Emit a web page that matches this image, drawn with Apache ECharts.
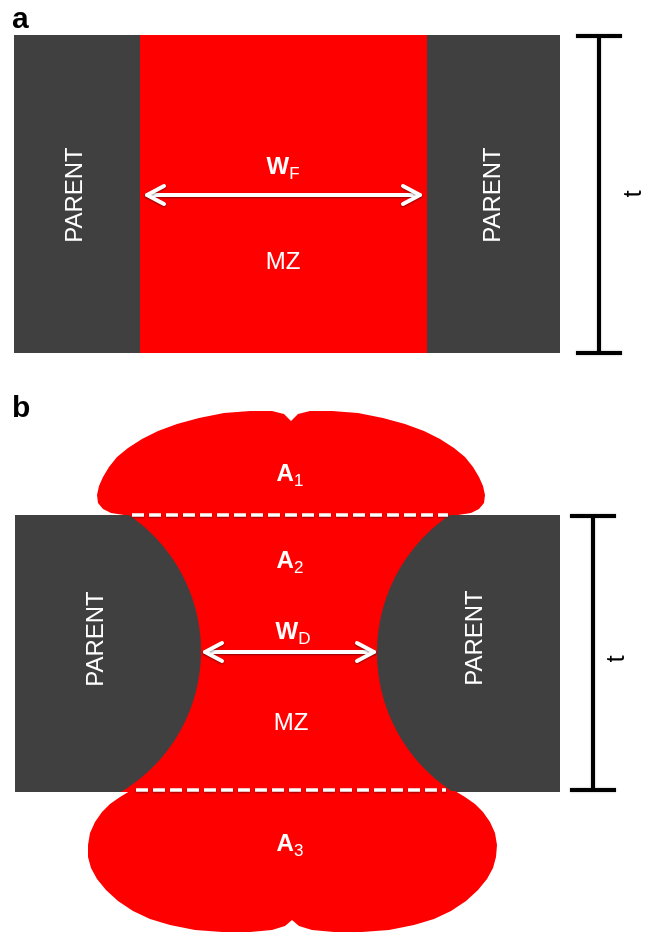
<!DOCTYPE html>
<html>
<head>
<meta charset="utf-8">
<script src="https://cdn.jsdelivr.net/npm/echarts@6/dist/echarts.min.js"></script>
<style>
  html, body { margin: 0; padding: 0; background: #ffffff; }
  #chart { width: 649px; height: 936px; }
</style>
</head>
<body>
<div id="chart"></div>
<script>
// Weld cross-section sketch: (a) flat fusion boundaries, (b) curved fusion boundaries
// with top and bottom bulges. Everything is laid out in a plain x/y frame
// (x to the right, y downward) and placed through hidden value axes.

// Parent-metal blocks and melt zone of panel a: [x0, y0, x1, y1]
const parentBlocksA = [[14, 35, 140, 353], [427, 35, 560, 353]];
const meltZoneA = [[140, 35, 427, 353]];

// Panel b: plate band [x0, y0, x1, y1]
const plateB = [[15, 515, 560, 792]];
// Circular fusion boundaries bounding the neck: [cx, cy, r]
const fusionArcsB = [[37, 651, 164], [543, 652.5, 166]];
// Top and bottom surface of the plate in panel b
const neckSpanB = [515, 792];

// Outline of the top bulge (A1)
const bulgeTop = [
  [124, 515], [111, 513], [103, 509], [98, 503], [97, 495], [99, 486], [103, 477],
  [109, 467], [117, 457], [128, 448], [142, 439], [158, 431], [177, 424], [199, 418],
  [224, 413], [250, 411], [272, 411], [284, 414], [291, 421], [298, 414], [310, 411],
  [332, 411], [358, 413], [383, 418], [405, 424], [424, 431], [440, 439], [454, 448],
  [465, 457], [473, 467], [479, 477], [483, 486], [485, 495], [484, 503], [479, 509],
  [471, 513], [458, 515]
];
// Outline of the bottom bulge (A3)
const bulgeBottom = [
  [130, 791], [120, 797], [110, 804], [102, 812], [95, 822], [90, 833], [88, 845],
  [88, 857], [91, 868], [97, 879], [106, 890], [118, 901], [133, 911], [150, 919],
  [170, 925], [195, 930], [222, 932], [250, 932], [272, 930], [285, 926], [292, 920],
  [299, 926], [312, 930], [334, 932], [362, 932], [389, 930], [414, 925], [434, 919],
  [451, 911], [466, 901], [478, 890], [487, 879], [493, 868], [496, 857], [497, 845],
  [495, 833], [490, 822], [483, 812], [475, 804], [465, 797], [455, 791]
];

// Dashed section lines at the plate surfaces: [x0, y, x1]
const surfaceLines = [[132, 515, 448], [136, 790, 446]];
// Width arrows W_F and W_D: [x0, y, x1]
const widthArrows = [[147, 195, 420], [205, 652, 374]];
// Thickness bars: [x, y0, y1]
const thicknessBars = [[599, 36, 353], [593, 516, 790]];

// Text labels
const panelLetters = [['a', 12, 20], ['b', 12, 409]];
// [symbol, subscript, x, y]
const symbolLabels = [
  ['W', 'F', 283, 167],
  ['A', '1', 290, 474],
  ['A', '2', 290, 561],
  ['W', 'D', 293, 632],
  ['A', '3', 290, 844]
];
const zoneLabels = [['MZ', 283, 262], ['MZ', 291, 723]];
const parentLabels = [['PARENT', 75, 195], ['PARENT', 493, 195], ['PARENT', 96, 639], ['PARENT', 475, 638]];
const thicknessLabels = [['t', 634, 194], ['t', 617, 659]];

const FONT = '"Liberation Sans", Arial, Helvetica, sans-serif';
const RED = '#ff0000';
const GREY = '#404040';
const WHITE = '#ffffff';
const INK = '#000000';
const softShadow = { shadowBlur: 2, shadowOffsetY: 1, shadowColor: 'rgba(0,0,0,0.45)' };
const SYMBOL_FONT = 'bold 24px ' + FONT;
const SUB_FONT = '17px ' + FONT;
const SUB_DROP = 7.5;

const measureCtx = document.createElement('canvas').getContext('2d');
function textWidth(str, font) {
  measureCtx.font = font;
  return measureCtx.measureText(str).width;
}

function rectRenderer(fill) {
  return function (params, api) {
    const p0 = api.coord([api.value(0), api.value(1)]);
    const p1 = api.coord([api.value(2), api.value(3)]);
    return {
      type: 'rect',
      shape: { x: p0[0], y: p0[1], width: p1[0] - p0[0], height: p1[1] - p0[1] },
      style: { fill: fill }
    };
  };
}

function outlineRenderer(outline) {
  return function (params, api) {
    return {
      type: 'polygon',
      shape: { points: outline.map(function (pt) { return api.coord(pt); }) },
      style: { fill: RED }
    };
  };
}

// Neck between the two circular fusion boundaries
function renderNeck(params, api) {
  const y0 = neckSpanB[0], y1 = neckSpanB[1];
  const L = fusionArcsB[0], R = fusionArcsB[1];
  const steps = 120;
  const reach = function (c, y) {
    const d = y - c[1];
    return Math.sqrt(Math.max(0, c[2] * c[2] - d * d));
  };
  const pts = [];
  for (let i = 0; i <= steps; i++) {
    const y = y0 + (y1 - y0) * i / steps;
    pts.push(api.coord([L[0] + reach(L, y), y]));
  }
  for (let i = steps; i >= 0; i--) {
    const y = y0 + (y1 - y0) * i / steps;
    pts.push(api.coord([R[0] - reach(R, y), y]));
  }
  return { type: 'polygon', shape: { points: pts }, style: { fill: RED } };
}

function renderSurfaceLine(params, api) {
  const a = api.coord([api.value(0), api.value(1)]);
  const b = api.coord([api.value(2), api.value(1)]);
  return {
    type: 'line',
    shape: { x1: a[0], y1: a[1], x2: b[0], y2: b[1] },
    style: Object.assign({ stroke: WHITE, lineWidth: 3.5, lineDash: [12, 5], fill: null }, softShadow)
  };
}

function renderArrow(params, api) {
  const a = api.coord([api.value(0), api.value(1)]);
  const b = api.coord([api.value(2), api.value(1)]);
  const head = 17, spread = 9;
  const st = Object.assign({ stroke: WHITE, lineWidth: 4, fill: null, lineCap: 'round', lineJoin: 'round' }, softShadow);
  return {
    type: 'group',
    children: [
      { type: 'line', shape: { x1: a[0], y1: a[1], x2: b[0], y2: b[1] }, style: st },
      { type: 'polyline', shape: { points: [[a[0] + head, a[1] - spread], a, [a[0] + head, a[1] + spread]] }, style: st },
      { type: 'polyline', shape: { points: [[b[0] - head, b[1] - spread], b, [b[0] - head, b[1] + spread]] }, style: st }
    ]
  };
}

function renderBar(params, api) {
  const top = api.coord([api.value(0), api.value(1)]);
  const bot = api.coord([api.value(0), api.value(2)]);
  const cap = 23;
  const st = { stroke: INK, lineWidth: 4, fill: null, shadowBlur: 2, shadowColor: 'rgba(0,0,0,0.35)' };
  return {
    type: 'group',
    children: [
      { type: 'line', shape: { x1: top[0], y1: top[1], x2: bot[0], y2: bot[1] }, style: st },
      { type: 'line', shape: { x1: top[0] - cap, y1: top[1], x2: top[0] + cap, y2: top[1] }, style: st },
      { type: 'line', shape: { x1: bot[0] - cap, y1: bot[1], x2: bot[0] + cap, y2: bot[1] }, style: st }
    ]
  };
}

function textEl(p, style, rotation) {
  return {
    type: 'text',
    x: p[0],
    y: p[1],
    rotation: rotation || 0,
    style: Object.assign({ textAlign: 'center', align: 'center', textVerticalAlign: 'middle', verticalAlign: 'middle' }, style)
  };
}

function renderPanelLetter(params, api) {
  const row = panelLetters[params.dataIndex];
  const p = api.coord([row[1], row[2]]);
  return textEl(p, {
    text: row[0], fill: INK, font: 'bold 30px ' + FONT,
    textAlign: 'left', align: 'left'
  });
}

// Symbol with a lowered subscript, centred as one word
function renderSymbol(params, api) {
  const row = symbolLabels[params.dataIndex];
  const p = api.coord([row[2], row[3]]);
  const wMain = textWidth(row[0], SYMBOL_FONT);
  const wSub = textWidth(row[1], SUB_FONT);
  const left = p[0] - (wMain + wSub) / 2;
  return {
    type: 'group',
    children: [
      textEl([left, p[1]], { text: row[0], fill: WHITE, font: SYMBOL_FONT, textAlign: 'left', align: 'left' }),
      textEl([left + wMain, p[1] + SUB_DROP], { text: row[1], fill: WHITE, font: SUB_FONT, textAlign: 'left', align: 'left' })
    ]
  };
}

function renderZone(params, api) {
  const row = zoneLabels[params.dataIndex];
  const p = api.coord([row[1], row[2]]);
  return textEl(p, { text: row[0], fill: WHITE, font: '24px ' + FONT });
}

function renderParent(params, api) {
  const row = parentLabels[params.dataIndex];
  const p = api.coord([row[1], row[2]]);
  return textEl(p, { text: row[0], fill: WHITE, font: '24px ' + FONT }, Math.PI / 2);
}

function renderThickness(params, api) {
  const row = thicknessLabels[params.dataIndex];
  const p = api.coord([row[1], row[2]]);
  return textEl(p, { text: row[0], fill: INK, font: '26px ' + FONT }, Math.PI / 2);
}

function indexData(arr) {
  return arr.map(function (_, i) { return [i]; });
}

const chart = echarts.init(document.getElementById('chart'), null, { renderer: 'canvas' });
chart.setOption({
  animation: false,
  backgroundColor: '#ffffff',
  grid: { left: 0, right: 0, top: 0, bottom: 0 },
  xAxis: { type: 'value', min: 0, max: 649, show: false },
  yAxis: { type: 'value', min: 0, max: 936, inverse: true, show: false },
  tooltip: { show: false },
  series: [
    { name: 'parent a', type: 'custom', z: 1, data: parentBlocksA, renderItem: rectRenderer(GREY) },
    { name: 'melt zone a', type: 'custom', z: 1, data: meltZoneA, renderItem: rectRenderer(RED) },
    { name: 'plate b', type: 'custom', z: 1, data: plateB, renderItem: rectRenderer(GREY) },
    { name: 'neck b', type: 'custom', z: 2, data: [[0]], renderItem: renderNeck },
    { name: 'A1', type: 'custom', z: 2, data: [[0]], renderItem: outlineRenderer(bulgeTop) },
    { name: 'A3', type: 'custom', z: 2, data: [[0]], renderItem: outlineRenderer(bulgeBottom) },
    { name: 'surface lines', type: 'custom', z: 3, data: surfaceLines, renderItem: renderSurfaceLine },
    { name: 'width arrows', type: 'custom', z: 3, data: widthArrows, renderItem: renderArrow },
    { name: 'thickness bars', type: 'custom', z: 3, data: thicknessBars, renderItem: renderBar },
    { name: 'panel letters', type: 'custom', z: 4, data: indexData(panelLetters), renderItem: renderPanelLetter },
    { name: 'symbols', type: 'custom', z: 4, data: indexData(symbolLabels), renderItem: renderSymbol },
    { name: 'zones', type: 'custom', z: 4, data: indexData(zoneLabels), renderItem: renderZone },
    { name: 'parent labels', type: 'custom', z: 4, data: indexData(parentLabels), renderItem: renderParent },
    { name: 'thickness labels', type: 'custom', z: 4, data: indexData(thicknessLabels), renderItem: renderThickness }
  ]
});
</script>
</body>
</html>
